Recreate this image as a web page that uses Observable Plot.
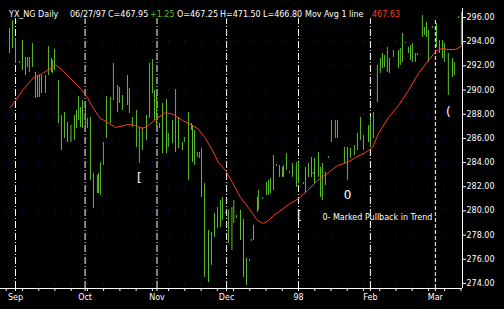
<!DOCTYPE html>
<html><head><meta charset="utf-8">
<script src="https://cdn.jsdelivr.net/npm/d3@7"></script>
<script src="https://cdn.jsdelivr.net/npm/@observablehq/plot@0.6"></script>
<style>html,body{margin:0;padding:0;background:#000;overflow:hidden}</style>
</head><body><div id="chart"></div>
<script>
// Days since 1997-09-01 for each daily bar
const barDay = [-2.6,-1.3,0.0,1.7,3.0,4.3,5.2,6.0,7.3,8.6,9.5,10.3,11.2,12.9,14.2,15.5,15.9,16.8,18.5,19.8,21.1,22.4,23.9,25.4,26.3,27.2,28.0,28.9,30.2,31.0,32.3,33.6,35.3,35.8,36.6,37.9,39.2,40.9,42.2,44.0,44.8,46.1,48.3,49.1,50.4,52.2,53.4,54.7,56.5,57.8,59.1,59.9,60.8,62.1,63.4,65.1,65.9,67.7,69.0,70.3,72.0,72.8,74.6,75.9,76.3,77.2,78.4,79.3,80.2,81.5,83.2,84.5,85.8,87.1,88.4,89.2,90.5,91.8,93.3,94.1,95.3,97.0,98.3,99.6,100.9,101.7,102.6,104.3,104.7,106.5,108.2,109.1,109.9,111.2,112.5,113.8,115.1,115.5,116.8,118.1,119.4,121.1,122.0,124.1,125.0,126.3,127.6,128.4,128.9,130.6,131.5,132.3,133.6,134.9,136.2,137.9,138.8,141.8,143.1,144.4,146.1,147.4,148.7,150.0,152.2,153.0,154.3,156.0,157.3,158.2,159.1,160.3,161.2,162.9,165.1,165.9,166.8,168.1,169.4,170.3,171.1,172.4,173.3,175.4,176.3,177.2,178.0,179.7,181.5,182.8,184.1,184.9,186.6,188.4,189.2,190.9,192.2];
const barHigh = [295.09,295.75,294.26,292.36,294.10,292.69,292.69,292.69,293.85,291.45,291.20,291.20,291.20,291.20,293.60,292.61,292.44,293.35,290.79,287.89,288.14,287.32,287.07,287.89,288.31,289.47,288.56,289.13,288.97,287.65,287.73,283.10,282.93,283.10,284.01,285.66,289.47,289.38,292.20,290.38,290.21,289.55,291.20,290.13,287.73,288.31,286.90,286.90,287.89,292.20,292.53,289.96,289.55,287.23,288.89,289.22,286.41,287.48,290.04,287.73,285.66,286.07,288.14,287.23,287.07,286.65,284.83,284.83,285.16,282.27,278.38,278.22,279.79,280.28,280.86,281.11,279.87,280.04,280.28,280.86,279.62,280.04,279.29,276.07,275.98,277.64,278.80,281.11,281.69,281.11,282.35,282.52,282.68,284.59,283.84,283.76,283.59,283.76,284.75,283.26,283.92,284.01,284.01,282.35,283.59,283.92,284.42,283.18,284.34,284.83,283.59,283.92,283.18,284.50,287.48,287.48,287.48,285.25,285.25,285.16,285.41,286.41,287.73,286.24,287.07,287.73,288.14,292.03,292.61,293.02,292.86,293.52,292.61,293.27,293.27,293.44,294.68,293.93,293.52,293.68,293.85,293.02,293.02,296.17,295.17,295.59,294.92,295.26,295.50,294.10,294.10,293.85,293.02,292.61,292.28,296.08,296.41];
const barLow = [293.02,293.44,292.20,292.20,291.62,291.20,291.86,291.45,291.86,289.30,289.38,289.38,289.71,289.71,291.20,291.45,291.37,291.62,287.23,285.00,285.99,285.66,285.66,285.83,286.82,287.48,286.90,286.82,286.82,286.82,282.52,280.20,281.44,281.44,281.28,283.76,285.99,287.23,289.13,288.14,288.89,288.31,288.72,288.06,286.90,285.25,283.92,285.00,285.83,287.65,289.71,287.48,287.07,286.82,284.75,284.75,285.25,285.58,284.83,285.16,285.00,285.66,282.52,286.65,284.01,283.76,284.42,284.34,281.11,274.49,274.08,275.49,277.80,278.55,278.63,279.21,279.79,277.31,276.73,278.96,279.37,277.55,274.49,273.83,275.82,277.47,277.55,279.87,280.04,280.95,281.28,281.28,281.44,281.69,283.68,282.77,282.77,282.77,283.35,283.10,282.77,281.94,282.27,282.19,281.44,282.77,282.77,283.02,282.27,282.77,281.11,280.86,282.10,284.34,285.66,285.99,285.99,283.92,282.52,284.34,284.59,285.00,285.83,285.00,285.66,285.25,285.99,288.97,291.37,291.78,291.86,291.45,291.37,292.69,291.78,292.03,292.28,293.85,293.02,292.44,292.28,292.28,292.86,294.35,294.51,294.35,292.28,295.09,293.52,293.02,292.61,292.28,289.55,291.04,291.20,295.92,293.68];

// Moving average line
const maDay = [-2.2,0,3.0,7.8,11.6,15.1,17.2,20.3,23.7,28.0,31.0,33.6,36.6,39.7,43.1,48.7,51.7,54.7,57.3,60.3,64.7,68.1,72.0,76.3,78.9,81.9,84.9,87.5,90.5,93.5,97.0,101.3,104.3,106.9,109.1,111.2,115.5,118.5,122.0,125.9,130.2,134.5,138.8,143.1,146.6,150.9,153.9,156.5,160.8,165.1,169.4,173.7,178.0,181.5,184.1,186.6,189.7,192.7];
const maValue = [288.56,289.13,289.96,291.04,291.37,291.78,292.11,291.62,290.95,290.13,289.38,288.47,287.65,287.32,286.90,287.15,287.07,286.82,287.07,287.56,288.14,287.98,287.48,287.07,286.74,285.99,285.00,284.01,283.35,282.35,281.11,280.04,279.21,278.96,279.21,279.62,280.20,280.62,281.03,281.69,282.52,283.10,283.76,284.01,284.42,284.83,285.25,286.41,287.73,288.72,289.96,291.37,292.44,293.27,293.44,293.35,293.35,293.68];

// Pullback markers
const markerDay = [53.4, 122.4, 143.1, 186.6];
const markerPrice = [282.73, 279.54, 281.28, 288.14];
const markerGlyph = ["[", "[", "0", "("];
const noteDay = [132.3];
const notePrice = [279.46];
const noteText = ["0- Marked Pullback in Trend"];

// Axis ticks and labels
const yTicks = [274, 276, 278, 280, 282, 284, 286, 288, 290, 292, 294, 296];
const monthStarts = ["1997-09-01","1997-10-01","1997-11-01","1997-12-01","1998-01-01","1998-02-01","1998-03-01"];
const monthLabels = ["Sep","Oct","Nov","Dec","98","Feb","Mar"];

// Header texts
const headerTexts = ["YX_NG Daily","06/27/97","C=467.95","+1.25","O=467.25","H=471.50","L=466.80","Mov Avg 1 line","467.63"];
const headerColors = ["#fff","#fff","#fff","#5cbf2a","#fff","#fff","#fff","#fff","#ff3b1f"];

const base = Date.UTC(1997, 8, 1);
const toDate = t => new Date(base + t * 864e5);
const bars = barDay.map((t, i) => ({date: toDate(t), hi: barHigh[i], lo: barLow[i]}));
const ma = maDay.map((t, i) => ({date: toDate(t), v: maValue[i]}));
const markers = markerDay.map((t, i) => ({date: toDate(t), p: markerPrice[i], g: markerGlyph[i]}));
const notes = noteDay.map((t, i) => ({date: toDate(t), p: notePrice[i], s: noteText[i]}));
const months = monthStarts.map(s => new Date(s + "T00:00Z"));
const xDomain = [toDate(-6.47), toDate(192.7)];
const yDomain = [273.58, 296.58];
const weeks = d3.utcThursday.range(toDate(-6), toDate(192.5));
const gridPts = weeks.flatMap(w => yTicks.map(y => ({date: w, y})));

const GREEN = "#5cbf2a", RED = "#ff3b1f";

const plot = Plot.plot({
  width: 504, height: 309,
  marginTop: 10, marginRight: 42, marginBottom: 21, marginLeft: 0,
  style: {background: "#000", color: "#fff", fontFamily: "DejaVu Sans", fontSize: "8px"},
  x: {type: "utc", domain: xDomain},
  y: {domain: yDomain},
  marks: [
    Plot.dot(gridPts, {x: "date", y: "y", r: 0.6, fill: "#1e1e96", stroke: null}),
    Plot.ruleX(months.slice(0, 6), {stroke: "#fff", strokeWidth: 1, strokeDasharray: "7,2,1,2", y1: yDomain[0], y2: 295.9}),
    Plot.ruleX(months.slice(6), {stroke: "#fff", strokeWidth: 1, strokeDasharray: "4,2", y1: yDomain[0], y2: 295.9}),
    Plot.ruleX(bars, {x: "date", y1: "lo", y2: "hi", stroke: GREEN, strokeWidth: 1}),
    Plot.line(ma, {x: "date", y: "v", stroke: RED, strokeWidth: 1}),
    Plot.text(markers, {x: "date", y: "p", text: "g", fill: "#fff", fontSize: 12}),
    Plot.text(notes, {x: "date", y: "p", text: "s", fill: "#fff", fontSize: 8, textAnchor: "start"}),
    Plot.ruleY([yDomain[0]], {stroke: "#fff"}),
    Plot.ruleX([xDomain[1]], {stroke: "#fff", y1: yDomain[0], y2: 296.75}),
    Plot.axisY({anchor: "right", ticks: yTicks, tickFormat: d => d.toFixed(2), tickSize: 3, tickPadding: 1, stroke: "#fff", fill: "#fff", fontSize: 8, label: null}),
    Plot.axisX({ticks: weeks, tickSize: 3, tickFormat: () => "", stroke: "#fff", label: null}),
    Plot.axisX({ticks: months, tickSize: 3, tickPadding: 3, tickFormat: (d, i) => monthLabels[i], stroke: "#fff", fill: "#fff", fontSize: 8, label: null})
  ]
});
document.getElementById("chart").appendChild(plot);

// Header line
const headerX = [9, 70, 108, 150, 177, 220, 263, 305, 372];
const hdr = d3.select(plot).append("text")
  .attr("y", 17).attr("text-anchor", "start")
  .attr("font-family", "DejaVu Sans").attr("font-size", "8px");
headerTexts.forEach((s, i) => {
  hdr.append("tspan").attr("x", headerX[i]).attr("fill", headerColors[i]).text(s);
});
</script>
</body></html>
